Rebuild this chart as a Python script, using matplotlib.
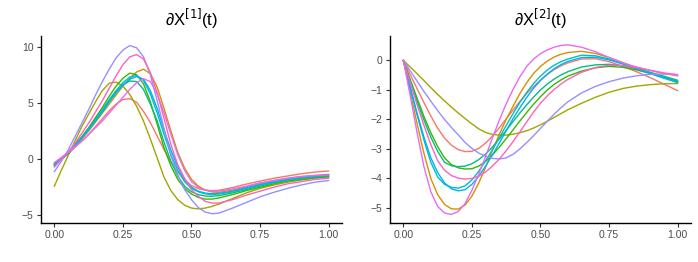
import numpy as np
import matplotlib.pyplot as plt

plt.rcParams['font.family'] = ['Liberation Sans', 'DejaVu Sans']

# malla de tiempo (mas fina donde las curvas cambian rapido)
t = [0.000, 0.025, 0.050, 0.075, 0.100, 0.125, 0.150, 0.175, 0.200,
     0.225, 0.250, 0.275, 0.300, 0.325, 0.350, 0.375, 0.400, 0.425,
     0.450, 0.475, 0.500, 0.525, 0.550, 0.575, 0.600,
     0.65, 0.70, 0.75, 0.80, 0.85, 0.90, 0.95, 1.00]

colores = ['#F8766D', '#D89000', '#A3A500', '#39B600', '#00BF7D',
           '#00BFC4', '#00B0F6', '#9590FF', '#E76BF3', '#FF62BC']

# derivada, componente 1
d1_c1 = [-0.5, 0.0, 0.5, 1.05, 1.6, 2.2, 2.9, 3.6, 4.3, 4.9, 5.3, 5.38, 5.05,
         4.25, 3.25, 2.05, 0.85, -0.25, -1.15, -1.85, -2.35, -2.62, -2.76,
         -2.8, -2.77, -2.52, -2.22, -1.95, -1.7, -1.5, -1.3, -1.15, -1.05]
d1_c2 = [-0.6, -0.05, 0.5, 1.1, 1.8, 2.5, 3.3, 4.1, 4.9, 5.7, 6.5, 7.2, 7.75,
         8.0, 7.6, 6.4, 4.5, 2.5, 0.6, -0.8, -1.8, -2.4, -2.75, -2.92, -2.95,
         -2.75, -2.45, -2.15, -1.9, -1.7, -1.55, -1.45, -1.35]
d1_c3 = [-2.4, -1.0, 0.3, 1.6, 2.9, 4.0, 5.1, 6.1, 6.75, 6.85, 6.5, 5.75, 4.7,
         3.4, 1.8, 0.1, -1.6, -2.8, -3.6, -4.1, -4.35, -4.42, -4.35, -4.2,
         -4.0, -3.5, -3.0, -2.6, -2.3, -2.05, -1.85, -1.7, -1.6]
d1_c4 = [-0.5, 0.05, 0.6, 1.3, 2.0, 2.8, 3.7, 4.6, 5.6, 6.5, 7.2, 7.65, 7.5,
         6.7, 5.1, 3.1, 1.0, -0.6, -1.8, -2.6, -3.1, -3.4, -3.55, -3.55,
         -3.45, -3.15, -2.8, -2.5, -2.2, -1.95, -1.8, -1.65, -1.55]
d1_c5 = [-0.4, 0.05, 0.5, 1.2, 1.9, 2.7, 3.5, 4.3, 5.2, 6.0, 6.6, 6.95, 6.9,
         6.2, 4.9, 3.4, 1.5, -0.2, -1.5, -2.4, -2.9, -3.15, -3.28, -3.3,
         -3.25, -3.0, -2.7, -2.4, -2.1, -1.9, -1.7, -1.6, -1.5]
d1_c6 = [-0.5, 0.0, 0.5, 1.2, 1.9, 2.7, 3.5, 4.4, 5.3, 6.1, 6.8, 7.3, 7.45,
         7.0, 5.8, 4.1, 2.2, 0.4, -1.0, -2.0, -2.6, -2.9, -3.08, -3.15, -3.1,
         -2.9, -2.6, -2.3, -2.05, -1.85, -1.65, -1.55, -1.45]
d1_c7 = [-0.6, -0.05, 0.5, 1.2, 1.9, 2.6, 3.4, 4.2, 5.1, 5.9, 6.6, 7.1, 7.35,
         7.1, 6.1, 4.5, 2.6, 0.8, -0.7, -1.8, -2.5, -2.85, -3.02, -3.08,
         -3.05, -2.85, -2.55, -2.25, -2.0, -1.8, -1.6, -1.5, -1.4]
d1_c8 = [-1.1, -0.2, 0.8, 2.0, 3.2, 4.4, 5.7, 6.9, 8.0, 9.0, 9.7, 10.1, 9.9,
         9.1, 7.5, 5.2, 2.7, 0.3, -1.4, -2.7, -3.6, -4.3, -4.7, -4.85, -4.8,
         -4.35, -3.85, -3.35, -2.95, -2.6, -2.3, -2.05, -1.9]
d1_c9 = [-0.3, 0.15, 0.6, 1.1, 1.6, 2.2, 2.8, 3.4, 4.1, 4.8, 5.5, 6.2, 6.8,
         7.15, 6.9, 5.8, 4.1, 2.2, 0.4, -1.0, -2.0, -2.5, -2.75, -2.85,
         -2.85, -2.65, -2.4, -2.1, -1.9, -1.7, -1.55, -1.45, -1.4]
d1_c10 = [-0.7, 0.0, 0.6, 1.4, 2.3, 3.2, 4.2, 5.2, 6.3, 7.4, 8.4, 9.1, 9.3,
          8.9, 7.7, 5.9, 3.6, 1.3, -0.5, -1.7, -2.7, -3.3, -3.75, -3.9, -3.9,
          -3.6, -3.2, -2.85, -2.5, -2.2, -2.0, -1.8, -1.7]

# derivada, componente 2
d2_c1 = [0.0, -0.48, -0.96, -1.43, -1.88, -2.3, -2.63, -2.87, -3.02, -3.09,
         -3.08, -2.98, -2.8, -2.56, -2.28, -1.98, -1.68, -1.39, -1.12, -0.88,
         -0.66, -0.47, -0.31, -0.18, -0.08,
         0.05, 0.06, -0.04, -0.2, -0.38, -0.58, -0.8, -1.02]
d2_c2 = [0.0, -1.08, -2.15, -3.15, -4.0, -4.55, -4.88, -5.03, -5.04, -4.9,
         -4.6, -4.15, -3.62, -3.05, -2.5, -2.0, -1.55, -1.12, -0.75, -0.44,
         -0.2, -0.02, 0.12, 0.21, 0.27,
         0.31, 0.24, 0.1, -0.07, -0.25, -0.42, -0.58, -0.7]
d2_c3 = [0.0, -0.22, -0.45, -0.68, -0.92, -1.15, -1.37, -1.58, -1.78, -1.97,
         -2.15, -2.32, -2.44, -2.51, -2.53, -2.53, -2.5, -2.45, -2.38, -2.29,
         -2.18, -2.06, -1.93, -1.8, -1.67,
         -1.45, -1.25, -1.08, -0.95, -0.87, -0.82, -0.79, -0.78]
d2_c4 = [0.0, -0.65, -1.28, -1.9, -2.45, -2.92, -3.3, -3.53, -3.64, -3.68,
         -3.67, -3.58, -3.42, -3.2, -2.94, -2.65, -2.35, -2.05, -1.76, -1.48,
         -1.23, -1.0, -0.81, -0.66, -0.53,
         -0.36, -0.25, -0.2, -0.23, -0.32, -0.44, -0.58, -0.72]
d2_c5 = [0.0, -0.7, -1.38, -2.02, -2.6, -3.08, -3.45, -3.57, -3.6, -3.58,
         -3.5, -3.36, -3.17, -2.93, -2.66, -2.37, -2.07, -1.78, -1.5, -1.24,
         -1.0, -0.8, -0.63, -0.49, -0.38,
         -0.22, -0.15, -0.13, -0.18, -0.28, -0.4, -0.53, -0.67]
d2_c6 = [0.0, -0.95, -1.85, -2.7, -3.45, -3.95, -4.2, -4.3, -4.33, -4.25,
         -4.05, -3.75, -3.4, -3.02, -2.62, -2.2, -1.8, -1.42, -1.08, -0.78,
         -0.53, -0.32, -0.16, -0.04, 0.05,
         0.18, 0.16, 0.05, -0.1, -0.27, -0.43, -0.58, -0.72]
d2_c7 = [0.0, -0.9, -1.8, -2.6, -3.3, -3.8, -4.15, -4.35, -4.42, -4.38,
         -4.2, -3.92, -3.58, -3.2, -2.8, -2.38, -1.97, -1.6, -1.25, -0.94,
         -0.68, -0.46, -0.28, -0.14, -0.03,
         0.1, 0.11, 0.02, -0.12, -0.28, -0.44, -0.6, -0.75]
d2_c8 = [0.0, -0.35, -0.7, -1.05, -1.38, -1.7, -2.0, -2.27, -2.52, -2.78,
         -2.98, -3.14, -3.25, -3.32, -3.34, -3.3, -3.18, -3.0, -2.78, -2.55,
         -2.3, -2.06, -1.82, -1.6, -1.4,
         -1.1, -0.88, -0.72, -0.6, -0.52, -0.47, -0.46, -0.48]
d2_c9 = [0.0, -1.2, -2.45, -3.6, -4.45, -4.95, -5.17, -5.22, -5.12, -4.85,
         -4.4, -3.85, -3.25, -2.62, -2.02, -1.47, -0.98, -0.55, -0.2, 0.05,
         0.23, 0.36, 0.45, 0.51, 0.53,
         0.45, 0.3, 0.1, -0.08, -0.22, -0.33, -0.42, -0.48]
d2_c10 = [0.0, -0.75, -1.5, -2.2, -2.85, -3.4, -3.72, -3.9, -3.99, -4.02,
          -4.0, -3.92, -3.78, -3.58, -3.34, -3.06, -2.75, -2.42, -2.08, -1.75,
          -1.45, -1.2, -0.98, -0.8, -0.64,
          -0.4, -0.24, -0.16, -0.17, -0.24, -0.34, -0.44, -0.52]

curvas1 = [d1_c1, d1_c2, d1_c3, d1_c4, d1_c5, d1_c6, d1_c7, d1_c8, d1_c9, d1_c10]
curvas2 = [d2_c1, d2_c2, d2_c3, d2_c4, d2_c5, d2_c6, d2_c7, d2_c8, d2_c9, d2_c10]

xticks = [0.00, 0.25, 0.50, 0.75, 1.00]
xlabels = ['0.00', '0.25', '0.50', '0.75', '1.00']
yticks1 = [-5, 0, 5, 10]
yticks2 = [-5, -4, -3, -2, -1, 0]


def panel(ax, curvas, titulo, ylim, yticks):
    for y, c in zip(curvas, colores):
        ax.plot(t, y, color=c, lw=1.0, solid_joinstyle='round')
    ax.set_xlim(-0.05, 1.05)
    ax.set_ylim(*ylim)
    ax.set_xticks(xticks)
    ax.set_xticklabels(xlabels)
    ax.set_yticks(yticks)
    ax.set_yticklabels([str(v).replace('-', '\u2212') for v in yticks])
    ax.set_title(titulo, fontsize=12, pad=7)
    for s in ['top', 'right']:
        ax.spines[s].set_visible(False)
    for s in ['left', 'bottom']:
        ax.spines[s].set_linewidth(1.0)
        ax.spines[s].set_color('black')
    ax.tick_params(length=3, width=0.8, color='#333333', labelcolor='#4D4D4D',
                   labelsize=7.5, pad=2)


fig = plt.figure(figsize=(6.98, 2.62), dpi=100)
ax1 = fig.add_axes([0.0583, 0.150, 0.432, 0.7126])
ax2 = fig.add_axes([0.5583, 0.150, 0.432, 0.7126])

panel(ax1, curvas1, '\u2202X$^{[1]}$(t)', (-5.65, 10.95), yticks1)
panel(ax2, curvas2, '\u2202X$^{[2]}$(t)', (-5.5, 0.83), yticks2)

fig.savefig('out.png', dpi=100)
